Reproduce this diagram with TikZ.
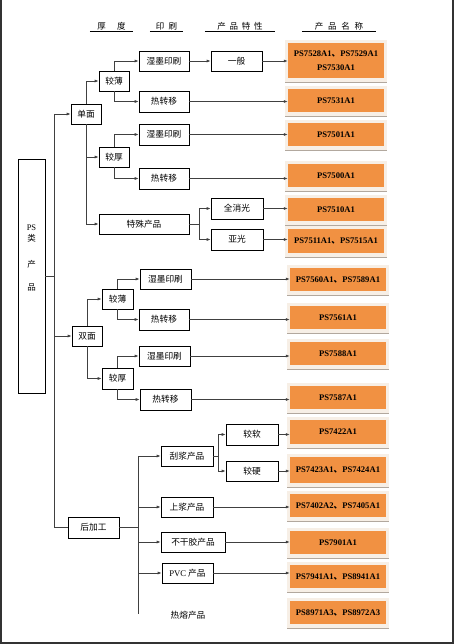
\documentclass[tikz,border=0pt]{standalone}
\usepackage{fontspec}
\setmainfont{Liberation Serif}
\newfontfamily\cjk{Noto Sans CJK SC}
\usetikzlibrary{arrows.meta,calc}
\definecolor{porange}{RGB}{241,145,66}
\definecolor{pshadow}{RGB}{247,239,230}
\definecolor{pline}{RGB}{178,168,158}
\newcommand{\dn}{{\cjk 、}}
\newcommand{\prodbox}[5]{%
  \fill[pshadow] (#2-51,#3-#4/2-3) rectangle (#2+51,#3+#4/2+4);
  \draw[pline, line width=0.8pt] (#2-51,#3+#4/2+4) -- (#2+51,#3+#4/2+4);
  \node[prod, minimum height=#4pt] (#1) at (#2,#3) {#5};}
\begin{document}
\begin{tikzpicture}[x=1pt,y=-1pt,
  box/.style={draw=black, line width=0.7pt, inner sep=0pt, font=\cjk\fontsize{8.7}{10}\selectfont},
  prod/.style={fill=porange, inner sep=0pt, minimum width=96pt, font=\bfseries\fontsize{8.6}{11}\selectfont, align=center},
  conn/.style={draw=black!75, line width=0.7pt},
  arr/.style={conn, -{Latex[length=4pt,width=3pt]}},
  head/.style={font=\cjk\fontsize{8.5}{9}\selectfont, inner sep=1pt, minimum height=9pt},
]
\useasboundingbox (0,0) rectangle (456,644);
\fill[white] (0,0) rectangle (456,644);
% frame
\draw[black!80, line width=1.3pt] (1,0) -- (1,643) -- (453,643) -- (453,0);

% headers
\node[head, minimum width=43pt] (h1) at (111.5,26) {厚\hspace{1.3em}度};
\node[head, minimum width=33pt] (h2) at (166.5,26) {印\hspace{0.5em}刷};
\node[head, minimum width=70pt] (h3) at (240,26) {产\hspace{0.45em}品\hspace{0.45em}特\hspace{0.45em}性};
\node[head, minimum width=74pt] (h4) at (339,26) {产\hspace{0.55em}品\hspace{0.55em}名\hspace{0.55em}称};
\foreach \h in {h1,h2,h3,h4} \draw[line width=0.7pt] (\h.south west) -- (\h.south east);

% main box
\node[box, minimum width=27pt, minimum height=234pt] (ps) at (31.5,276) {};
\node[inner sep=0pt, align=center, font=\fontsize{8.5}{10}\selectfont] (pstext) at (31.5,258)
  {PS\\[1pt]{\cjk 类}\\[16pt]{\cjk 产}\\[13pt]{\cjk 品}};

% left boxes
\node[box, minimum width=30pt, minimum height=20pt] (dan) at (86,114) {单面};
\node[box, minimum width=30pt, minimum height=20pt] (bao1) at (114,81) {较薄};
\node[box, minimum width=50pt, minimum height=20pt] (shi1) at (164,61) {湿墨印刷};
\node[box, minimum width=51pt, minimum height=20pt] (yiban) at (236.5,61) {一般};
\node[box, minimum width=50pt, minimum height=21pt] (re1) at (164,101.5) {热转移};
\node[box, minimum width=30pt, minimum height=20pt] (hou1) at (114,157) {较厚};
\node[box, minimum width=50pt, minimum height=21pt] (shi2) at (164,134.5) {湿墨印刷};
\node[box, minimum width=50pt, minimum height=21pt] (re2) at (164,178.5) {热转移};
\node[box, minimum width=90pt, minimum height=20pt] (tesu) at (144,224) {特殊产品};
\node[box, minimum width=52pt, minimum height=21pt] (quan) at (237,208.5) {全消光};
\node[box, minimum width=52pt, minimum height=21pt] (ya) at (237,239.5) {亚光};

\node[box, minimum width=30pt, minimum height=20pt] (shuang) at (87,336) {双面};
\node[box, minimum width=31pt, minimum height=20pt] (bao2) at (117.5,299) {较薄};
\node[box, minimum width=51pt, minimum height=20pt] (shi3) at (165.5,279) {湿墨印刷};
\node[box, minimum width=50pt, minimum height=21pt] (re3) at (164,319.5) {热转移};
\node[box, minimum width=31pt, minimum height=21pt] (hou2) at (117.5,378.5) {较厚};
\node[box, minimum width=51pt, minimum height=20pt] (shi4) at (164.5,356) {湿墨印刷};
\node[box, minimum width=51pt, minimum height=21pt] (re4) at (165.5,399.5) {热转移};

\node[box, minimum width=51pt, minimum height=21pt] (houjia) at (93.5,527.5) {后加工};
\node[box, minimum width=52pt, minimum height=20pt] (pou) at (187,456) {刮浆产品};
\node[box, minimum width=52pt, minimum height=21pt] (ruan) at (252,434.5) {较软};
\node[box, minimum width=52pt, minimum height=20pt] (ying) at (252,471) {较硬};
\node[box, minimum width=52pt, minimum height=20pt] (shang) at (187,507) {上浆产品};
\node[box, minimum width=64pt, minimum height=20pt] (bugan) at (193,542) {不干胶产品};
\node[box, minimum width=51pt, minimum height=20pt] (pvc) at (187.5,573) {{\rmfamily PVC} 产品};
\node[inner sep=0pt, font=\cjk\fontsize{8.7}{10}\selectfont] (rerong) at (188,615) {热熔产品};

% product boxes
\prodbox{p1}{336}{60.5}{35}{PS7528A1\dn PS7529A1\\[3pt]PS7530A1}
\prodbox{p2}{336}{100.5}{23}{PS7531A1}
\prodbox{p3}{336}{134.5}{23}{PS7501A1}
\prodbox{p4}{336}{175.5}{23}{PS7500A1}
\prodbox{p5}{336}{209.5}{23}{PS7510A1}
\prodbox{p6}{336}{241}{24}{PS7511A1\dn PS7515A1}
\prodbox{p7}{338}{279.5}{23}{PS7560A1\dn PS7589A1}
\prodbox{p8}{338}{317.5}{23}{PS7561A1}
\prodbox{p9}{338}{353.5}{23}{PS7588A1}
\prodbox{p10}{338}{397.5}{23}{PS7587A1}
\prodbox{p11}{338}{432}{24}{PS7422A1}
\prodbox{p12}{338}{470}{26}{PS7423A1\dn PS7424A1}
\prodbox{p13}{338}{505.5}{23}{PS7402A2\dn PS7405A1}
\prodbox{p14}{338}{542.5}{23}{PS7901A1}
\prodbox{p15}{338}{576.5}{23}{PS7941A1\dn PS8941A1}
\prodbox{p16}{338}{612.5}{23}{PS8971A3\dn PS8972A3}

% trunk
\coordinate (t0) at ($(ps.east)+(9,0)$);
\draw[conn] (ps.east) -- (t0);
\draw[conn] (t0 |- dan.west) -- (t0 |- houjia.west);
\draw[arr] (t0 |- dan.west) -- (dan.west);
\draw[arr] (t0 |- shuang.west) -- (shuang.west);
\draw[conn] (t0 |- houjia.west) -- (houjia.west);

% single side
\draw[arr] (dan.north) |- (bao1.west);
\draw[arr] (dan.south) |- (hou1.west);
\draw[arr] (dan.south) |- (tesu.west);
\draw[arr] (bao1.north) |- (shi1.west);
\draw[arr] (bao1.south) |- (re1.west);
\draw[arr] (hou1.north) |- (shi2.west);
\draw[arr] (hou1.south) |- (re2.west);
\draw[arr] (shi1.east) -- (yiban.west);
\draw[arr] (yiban.east) -- (yiban.east -| p1.west);
\draw[arr] (re1.east) -- (re1.east -| p2.west);
\draw[arr] (shi2.east) -- (shi2.east -| p3.west);
\draw[arr] (re2.east) -- (re2.east -| p4.west);
\coordinate (ts) at ($(tesu.east)+(10,0)$);
\draw[conn] (tesu.east) -- (ts);
\draw[arr] (ts) |- (quan.west);
\draw[arr] (ts) |- (ya.west);
\draw[arr] (quan.east) -- (quan.east -| p5.west);
\draw[arr] (ya.east) -- (ya.east -| p6.west);

% double side
\draw[arr] (shuang.north) |- (bao2.west);
\draw[arr] (shuang.south) |- (hou2.west);
\draw[arr] (bao2.north) |- (shi3.west);
\draw[arr] (bao2.south) |- (re3.west);
\draw[arr] (hou2.north) |- (shi4.west);
\draw[arr] (hou2.south) |- (re4.west);
\draw[arr] (shi3.east) -- (shi3.east -| p7.west);
\draw[arr] (re3.east) -- (re3.east -| p8.west);
\draw[arr] (shi4.east) -- (shi4.east -| p9.west);
\draw[arr] (re4.east) -- (re4.east -| p10.west);

% post processing
\coordinate (hj) at (138,527.5);
\coordinate (hjend) at (138,614);
\draw[conn] (houjia.east) -- (hj);
\draw[conn] (hj |- pou.west) -- (hjend);
\draw[arr] (hj |- pou.west) -- (pou.west);
\draw[arr] (hj |- shang.west) -- (shang.west);
\draw[arr] (hj |- bugan.west) -- (bugan.west);
\draw[arr] (hj |- pvc.west) -- (pvc.west);
\coordinate (pj) at ($(pou.east)+(5,0)$);
\draw[conn] (pou.east) -- (pj);
\draw[arr] (pj) |- (ruan.west);
\draw[arr] (pj) |- (ying.west);
\draw[arr] (ruan.east) -- (ruan.east -| p11.west);
\draw[arr] (ying.east) -- (ying.east -| p12.west);
\draw[arr] (shang.east) -- (shang.east -| p13.west);
\draw[arr] (bugan.east) -- (bugan.east -| p14.west);
\draw[arr] (pvc.east) -- (pvc.east -| p15.west);
\end{tikzpicture}
\end{document}
